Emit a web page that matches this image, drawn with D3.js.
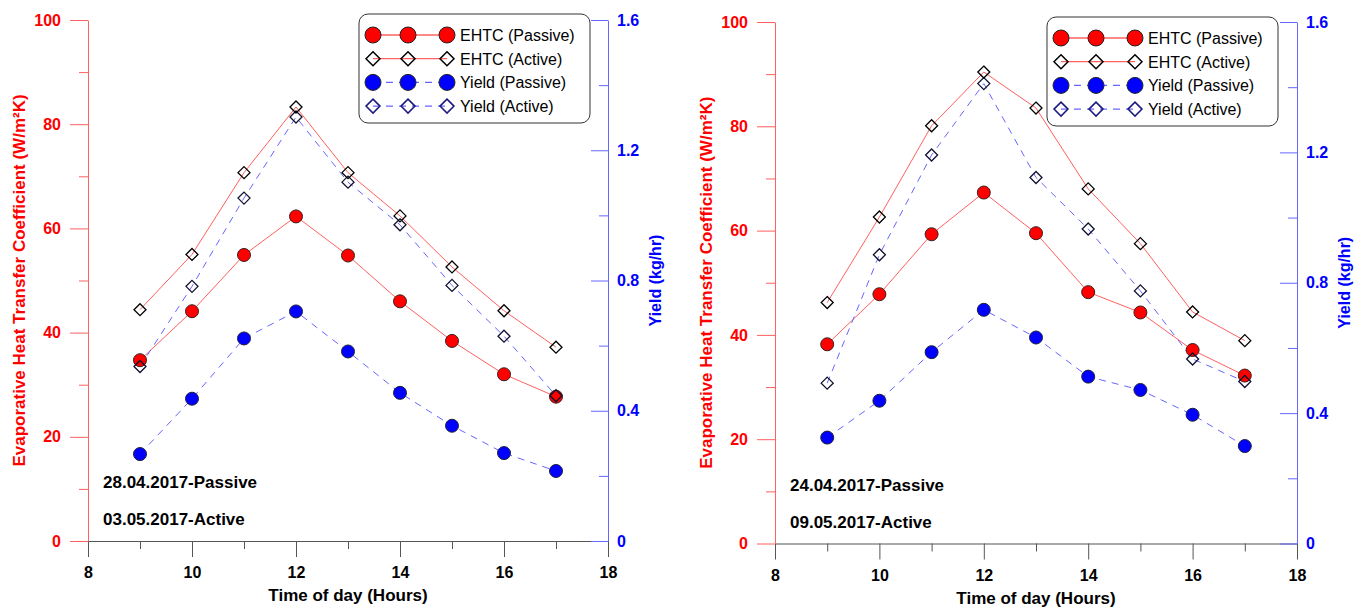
<!DOCTYPE html>
<html>
<head>
<meta charset="utf-8">
<script src="https://cdn.jsdelivr.net/npm/d3@7"></script>
<style>
  body { margin: 0; background: #fff; }
  svg text { font-family: "Liberation Sans", Arial, sans-serif; }
</style>
</head>
<body>
<div id="chart"></div>
<script>
// ---- data ----
const hours = [9, 10, 11, 12, 13, 14, 15, 16, 17];
const xTicks = [8, 10, 12, 14, 16, 18];
const xMinor = [9, 11, 13, 15, 17];
const ehtcTicks = [0, 20, 40, 60, 80, 100];
const ehtcMinor = [10, 30, 50, 70, 90];
const yieldTicks = [0, 0.4, 0.8, 1.2, 1.6];
const yieldMinor = [0.2, 0.6, 1.0, 1.4];

// left panel (28.04 / 03.05)
const ehtcPassiveA = [34.7, 44.1, 54.9, 62.3, 54.8, 46.0, 38.4, 32.0, 27.7];
const ehtcActiveA  = [44.4, 55.0, 70.7, 83.3, 70.7, 62.4, 52.6, 44.2, 37.2];
const yieldPassiveA = [0.267, 0.437, 0.622, 0.705, 0.582, 0.455, 0.354, 0.270, 0.215];
const yieldActiveA  = [0.536, 0.782, 1.053, 1.302, 1.102, 0.971, 0.785, 0.629, 0.446];
const datesA = ["28.04.2017-Passive", "03.05.2017-Active"];

// right panel (24.04 / 09.05)
const ehtcPassiveB = [38.2, 47.8, 59.3, 67.3, 59.5, 48.2, 44.3, 37.1, 32.2];
const ehtcActiveB  = [46.2, 62.6, 80.1, 90.4, 83.5, 68.0, 57.5, 44.4, 38.9];
const yieldPassiveB = [0.325, 0.438, 0.587, 0.717, 0.632, 0.512, 0.471, 0.395, 0.299];
const yieldActiveB  = [0.492, 0.886, 1.192, 1.411, 1.123, 0.965, 0.775, 0.566, 0.497];
const datesB = ["24.04.2017-Passive", "09.05.2017-Active"];

const legendLabels = ["EHTC (Passive)", "EHTC (Active)", "Yield (Passive)", "Yield (Active)"];

const width = 1362, height = 608;
const red = "#ff0000", lightRed = "#ff6060", blue = "#0000ff", lightBlue = "#6666ff", navy = "#1a1a80";

const svg = d3.select("#chart")
  .append("svg")
    .attr("width", width)
    .attr("height", height);

const diamond = (s) => `M0,${-s}L${s},0L0,${s}L${-s},0Z`;

const drawPanel = (p) => {

  const xScale = d3.scaleLinear().domain([8, 18]).range([p.left, p.right]);
  const yScale = d3.scaleLinear().domain([0, 100]).range([p.bottom, p.top]);
  const y2Scale = d3.scaleLinear().domain([0, 1.6]).range([p.bottom, p.top]);

  const g = svg.append("g");

  /*   axes   */
  // bottom axis
  const bottom = g.append("g")
    .attr("transform", `translate(0, ${p.bottom})`)
    .call(d3.axisBottom(xScale).tickValues(xTicks).tickSize(16).tickPadding(10).tickSizeOuter(0));
  g.append("g")
    .attr("transform", `translate(0, ${p.bottom})`)
    .call(d3.axisBottom(xScale).tickValues(xMinor).tickSize(8).tickFormat("").tickSizeOuter(0))
    .select(".domain").remove();
  g.selectAll("line, path").attr("stroke", "#555");
  bottom.selectAll("text")
    .attr("font-size", 16).attr("font-weight", "bold").attr("fill", "#000")
    .attr("font-family", "Liberation Sans, Arial, sans-serif");

  // left axis (EHTC)
  const leftAx = g.append("g")
    .attr("transform", `translate(${p.left}, 0)`)
    .call(d3.axisLeft(yScale).tickValues(ehtcTicks).tickSize(18).tickPadding(9).tickSizeOuter(0));
  const leftMinor = g.append("g")
    .attr("transform", `translate(${p.left}, 0)`)
    .call(d3.axisLeft(yScale).tickValues(ehtcMinor).tickSize(9).tickFormat("").tickSizeOuter(0));
  leftMinor.select(".domain").remove();
  leftAx.selectAll("line, path").attr("stroke", lightRed);
  leftMinor.selectAll("line").attr("stroke", lightRed);
  leftAx.selectAll("text")
    .attr("font-size", 16).attr("font-weight", "bold").attr("fill", red)
    .attr("font-family", "Liberation Sans, Arial, sans-serif");

  // right axis (Yield) - ticks point inwards
  const rightAx = g.append("g")
    .attr("transform", `translate(${p.right}, 0)`)
    .call(d3.axisRight(y2Scale).tickValues(yieldTicks).tickSize(-17).tickPadding(9).tickSizeOuter(0)
      .tickFormat(d => d === 0 ? "0" : d3.format(".1f")(d)));
  const rightMinor = g.append("g")
    .attr("transform", `translate(${p.right}, 0)`)
    .call(d3.axisRight(y2Scale).tickValues(yieldMinor).tickSize(-9).tickFormat("").tickSizeOuter(0));
  rightMinor.select(".domain").remove();
  rightAx.selectAll("line, path").attr("stroke", lightBlue);
  rightMinor.selectAll("line").attr("stroke", lightBlue);
  rightAx.selectAll("text")
    .attr("font-size", 16).attr("font-weight", "bold").attr("fill", blue)
    .attr("font-family", "Liberation Sans, Arial, sans-serif");

  // axis titles
  g.append("text")
    .text("Time of day (Hours)")
    .attr("x", (p.left + p.right) / 2)
    .attr("y", p.bottom + 60)
    .attr("text-anchor", "middle")
    .attr("font-size", 17).attr("font-weight", "bold");

  g.append("text")
    .text("Evaporative Heat Transfer Coefficient (W/m²K)")
    .attr("transform", `translate(${p.left - 63}, ${(p.top + p.bottom) / 2}) rotate(-90)`)
    .attr("text-anchor", "middle")
    .attr("font-size", 17).attr("font-weight", "bold").attr("fill", red);

  g.append("text")
    .text("Yield (kg/hr)")
    .attr("transform", `translate(${p.right + 53}, ${(p.top + p.bottom) / 2}) rotate(-90)`)
    .attr("text-anchor", "middle")
    .attr("font-size", 16).attr("font-weight", "bold").attr("fill", blue);

  /*   lines   */
  const lineE = d3.line().x((d, i) => xScale(hours[i])).y(d => yScale(d));
  const lineY = d3.line().x((d, i) => xScale(hours[i])).y(d => y2Scale(d));

  g.append("path").attr("d", lineE(p.ehtcActive)).attr("fill", "none").attr("stroke", lightRed).attr("stroke-width", 1);
  g.append("path").attr("d", lineE(p.ehtcPassive)).attr("fill", "none").attr("stroke", lightRed).attr("stroke-width", 1);
  g.append("path").attr("d", lineY(p.yieldActive)).attr("fill", "none").attr("stroke", lightBlue)
    .attr("stroke-width", 1).attr("stroke-dasharray", "7,6");
  g.append("path").attr("d", lineY(p.yieldPassive)).attr("fill", "none").attr("stroke", lightBlue)
    .attr("stroke-width", 1).attr("stroke-dasharray", "7,6");

  /*   markers   */
  g.selectAll(".ep").data(p.ehtcPassive).join("circle")
    .attr("cx", (d, i) => xScale(hours[i])).attr("cy", d => yScale(d)).attr("r", 6.5)
    .attr("fill", red).attr("stroke", "#3a2020").attr("stroke-width", 1);
  g.selectAll(".yp").data(p.yieldPassive).join("circle")
    .attr("cx", (d, i) => xScale(hours[i])).attr("cy", d => y2Scale(d)).attr("r", 6.5)
    .attr("fill", blue).attr("stroke", "#20203a").attr("stroke-width", 1);
  g.append("g").selectAll("path").data(p.yieldActive).join("path")
    .attr("transform", (d, i) => `translate(${xScale(hours[i])}, ${y2Scale(d)})`)
    .attr("d", diamond(6)).attr("fill", "none").attr("stroke", "#101030").attr("stroke-width", 1.3);
  g.append("g").selectAll("path").data(p.ehtcActive).join("path")
    .attr("transform", (d, i) => `translate(${xScale(hours[i])}, ${yScale(d)})`)
    .attr("d", diamond(6)).attr("fill", "none").attr("stroke", "#000").attr("stroke-width", 1.3);

  /*   date notes   */
  p.dates.forEach((t, i) => {
    g.append("text")
      .text(t)
      .attr("x", p.left + 15)
      .attr("y", p.bottom - 53 + i * 37)
      .attr("font-size", 17).attr("font-weight", "bold");
  });

  /*   legend   */
  const lg = g.append("g").attr("transform", `translate(${p.legX}, ${p.legY})`);
  lg.append("rect")
    .attr("width", 231).attr("height", 109).attr("rx", 9)
    .attr("fill", "#fff").attr("stroke", "#333").attr("stroke-width", 1);
  const symX = [14, 49, 88];
  legendLabels.forEach((label, i) => {
    const yy = 21 + i * 23.7;
    const isYield = i >= 2;
    lg.append("line")
      .attr("x1", symX[0]).attr("x2", symX[2]).attr("y1", yy).attr("y2", yy)
      .attr("stroke", isYield ? lightBlue : lightRed).attr("stroke-width", 1.3)
      .attr("stroke-dasharray", isYield ? "7,6" : null);
    symX.forEach(sx => {
      if (i % 2 === 0) {
        lg.append("circle").attr("cx", sx).attr("cy", yy).attr("r", 8)
          .attr("fill", isYield ? blue : red).attr("stroke", "#222").attr("stroke-width", 1);
      } else {
        lg.append("path").attr("transform", `translate(${sx}, ${yy})`).attr("d", diamond(7))
          .attr("fill", "#fff").attr("fill-opacity", 0).attr("stroke", isYield ? navy : "#000").attr("stroke-width", 1.5);
      }
    });
    lg.append("text")
      .text(label)
      .attr("x", 101).attr("y", yy + 6)
      .attr("font-size", 16);
  });
};

drawPanel({
  left: 88, right: 608, top: 20, bottom: 541,
  ehtcPassive: ehtcPassiveA, ehtcActive: ehtcActiveA,
  yieldPassive: yieldPassiveA, yieldActive: yieldActiveA,
  dates: datesA, legX: 359, legY: 14
});

drawPanel({
  left: 775, right: 1297, top: 22, bottom: 543.5,
  ehtcPassive: ehtcPassiveB, ehtcActive: ehtcActiveB,
  yieldPassive: yieldPassiveB, yieldActive: yieldActiveB,
  dates: datesB, legX: 1047, legY: 17
});
</script>
</body>
</html>
